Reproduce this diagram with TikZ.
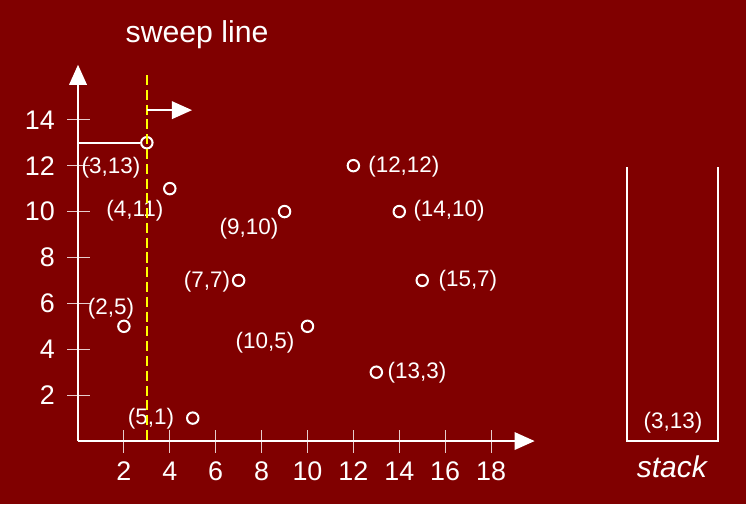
\documentclass[tikz,border=0pt]{standalone}
\usepackage{fontspec}
\setmainfont{Liberation Sans}
\usetikzlibrary{arrows.meta,positioning}
\definecolor{bgred}{HTML}{800000}
\definecolor{sweepy}{HTML}{FFFF00}
\tikzset{
  axis/.style={-{Triangle[length=15pt,width=13pt]},line width=1.6pt,draw=white},
  tickmark/.style={draw=white!80!bgred,line width=0.8pt},
  ticklabel/.style={text=white,font=\fontsize{20}{24}\selectfont,inner sep=0pt},
  evpoint/.style={circle,draw=white,line width=1.5pt,minimum size=8.5pt,inner sep=0pt},
  ptlabel/.style={text=white,font=\fontsize{16.7}{20}\selectfont,inner sep=0pt},
  sweep/.style={draw=sweepy,line width=1.5pt,dash pattern=on 7.5pt off 3.5pt},
  stackwall/.style={draw=white,line width=1.5pt}
}

\begin{document}
\begin{tikzpicture}[x=0.6cm,y=0.6cm]
\fill[bgred] (-3.40,-2.75) rectangle (29.11,19.22);
% axes and ticks
\coordinate (o) at (0,0);
\coordinate (xend) at (19.9,0);
\coordinate (yend) at (0,16.4);
\foreach \t in {2,4,...,18} {
  \draw[tickmark] (\t,0.48) -- (\t,-0.52);
  \node[ticklabel] (xl\t) at (\t,-1.3) {\t};
}
\foreach \t in {2,4,...,14} {
  \draw[tickmark] (-0.48,\t) -- (0.52,\t);
  \node[ticklabel,anchor=east] (yl\t) at (-1.0,\t) {\t};
}
\draw[axis] (o) -- (xend);
\draw[axis] (o) -- (yend);
% event points
\foreach \px/\py/\lx/\ly in {3/13/1.44/11.90, 4/11/2.48/10.02, 9/10/7.45/9.24,
    12/12/14.20/11.94, 14/10/16.17/10.02, 7/7/5.62/6.93, 15/7/16.99/6.97,
    10/5/8.15/4.27, 13/3/14.77/2.96, 2/5/1.44/5.75, 5/1/3.18/0.96} {
  \node[evpoint] (p\px-\py) at (\px,\py) {};
  \node[ptlabel] (l\px-\py) at (\lx,\ly) {(\px,\py)};
}
\coordinate (y13) at (0,13);
\draw[white,line width=1.6pt] (y13) -- (p3-13.west);
% stack
\coordinate (stl) at (23.92,11.94);
\coordinate (sbl) at (23.92,0);
\coordinate (sbr) at (27.89,0);
\coordinate (str) at (27.89,11.94);
\draw[stackwall] (stl) -- (sbl) -- (sbr) -- (str);
\node[ptlabel] (top) at (25.93,0.78) {(3,13)};
\node[text=white,font=\fontsize{22.3}{26}\selectfont\itshape] (stacklbl) at (25.88,-1.12) {stack};
% sweep line
\coordinate (swtop) at (3,15.95);
\coordinate (swbot) at (3,0);
\coordinate (swa) at (3,14.42);
\coordinate (swb) at (4.97,14.42);
\draw[sweep] (swtop) -- (swbot);
\draw[axis] (swa) -- (swb);
\node[text=white,font=\fontsize{22.5}{26}\selectfont] (swlbl) at (5.19,17.70) {sweep line};
\end{tikzpicture}
\end{document}
